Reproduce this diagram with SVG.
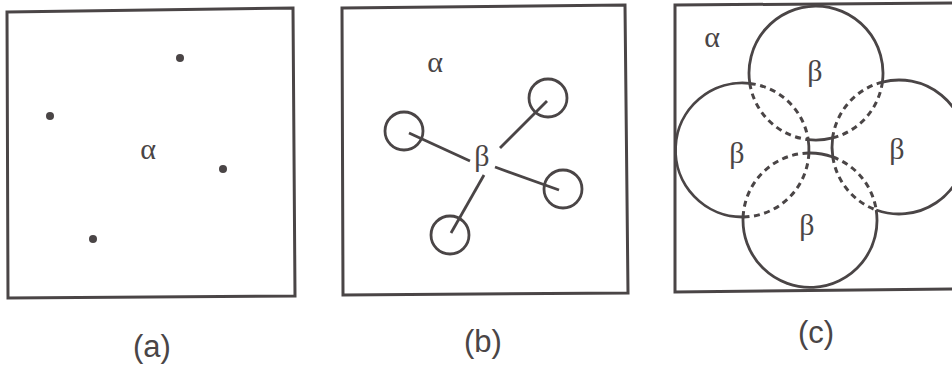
<svg xmlns="http://www.w3.org/2000/svg" width="952" height="367" viewBox="0 0 952 367">
<style>
.box{fill:none;stroke:#4a4546;stroke-width:3;stroke-linejoin:miter}
.ln{fill:none;stroke:#4a4546;stroke-width:2.8}
.ds{fill:none;stroke:#4a4546;stroke-width:3;stroke-dasharray:6 4.5}
.dot{fill:#4a4546}
.gr{font-family:"Liberation Serif","Times New Roman",serif;font-size:30px;fill:#4a4546;text-anchor:middle}
.cap{font-family:"Liberation Sans",Arial,sans-serif;font-size:31px;fill:#4a4546;text-anchor:middle}
</style>
<rect width="952" height="367" fill="#ffffff"/>
<g id="panel-a">
  <path class="box" d="M7,12 L293,8 L295,296 L8,298 Z"/>
  <circle class="dot" cx="180" cy="58" r="4"/>
  <circle class="dot" cx="50" cy="116" r="4"/>
  <circle class="dot" cx="223" cy="169" r="4"/>
  <circle class="dot" cx="93" cy="239" r="4"/>
  <text class="gr" x="148" y="159">α</text>
  <text class="cap" x="152" y="357">(a)</text>
</g>
<g id="panel-b">
  <path class="box" d="M342,8 L625,5 L628,293 L343,295 Z"/>
  <text class="gr" x="435" y="72">α</text>
  <g id="b-circles">
    <circle class="ln" cx="404" cy="131" r="19"/>
    <circle class="ln" cx="548" cy="98" r="19"/>
    <circle class="ln" cx="563" cy="189" r="19"/>
    <circle class="ln" cx="450" cy="235" r="19"/>
  </g>
  <g id="b-connectors">
    <line class="ln" x1="409" y1="133" x2="470" y2="161"/>
    <line class="ln" x1="500" y1="148" x2="547" y2="101"/>
    <line class="ln" x1="495" y1="167" x2="559" y2="190"/>
    <line class="ln" x1="484" y1="175" x2="451" y2="233"/>
  </g>
  <text class="gr" x="482" y="166">β</text>
  <text class="cap" x="483" y="352">(b)</text>
</g>
<g id="panel-c">
  <path class="box" d="M675,5 L955,3 L955,289 L675,292 Z"/>
  <text class="gr" x="712" y="47">α</text>
  <g id="c-top">
    <path class="ln" d="M882.4,82.1 A67,67 0 1 0 749.8,83.4"/>
    <path class="ds" d="M749.8,83.4 A67,67 0 0 0 808.2,139.6"/>
    <path class="ln" d="M808.2,139.6 A67,67 0 0 0 832.6,137.9"/>
    <path class="ds" d="M832.6,137.9 A67,67 0 0 0 882.4,82.1"/>
  </g>
  <g id="c-left">
    <path class="ln" d="M743.1,217 A67,67 0 1 1 749.8,83.4"/>
    <path class="ds" d="M749.8,83.4 A67,67 0 0 1 808.2,139.6"/>
    <path class="ln" d="M808.2,139.6 A67,67 0 0 1 808.9,153"/>
    <path class="ds" d="M808.9,153 A67,67 0 0 1 743.1,217"/>
  </g>
  <g id="c-right">
    <path class="ds" d="M882.4,82.1 A67,67 0 0 0 832.6,137.9"/>
    <path class="ln" d="M832.6,137.9 A67,67 0 0 0 832.8,157"/>
    <path class="ds" d="M832.8,157 A67,67 0 0 0 876.2,210"/>
    <path class="ln" d="M876.2,210 A67,67 0 1 0 882.4,82.1"/>
  </g>
  <g id="c-bottom">
    <path class="ds" d="M743.1,217 A67,67 0 0 1 808.9,153"/>
    <path class="ln" d="M808.9,153 A67,67 0 0 1 832.8,157"/>
    <path class="ds" d="M832.8,157 A67,67 0 0 1 876.2,210"/>
    <path class="ln" d="M876.2,210 A67,67 0 1 1 743.1,217"/>
  </g>
  <text class="gr" x="815" y="81">β</text>
  <text class="gr" x="737" y="163">β</text>
  <text class="gr" x="897" y="159">β</text>
  <text class="gr" x="807" y="235">β</text>
  <text class="cap" x="816" y="343">(c)</text>
</g>
</svg>
